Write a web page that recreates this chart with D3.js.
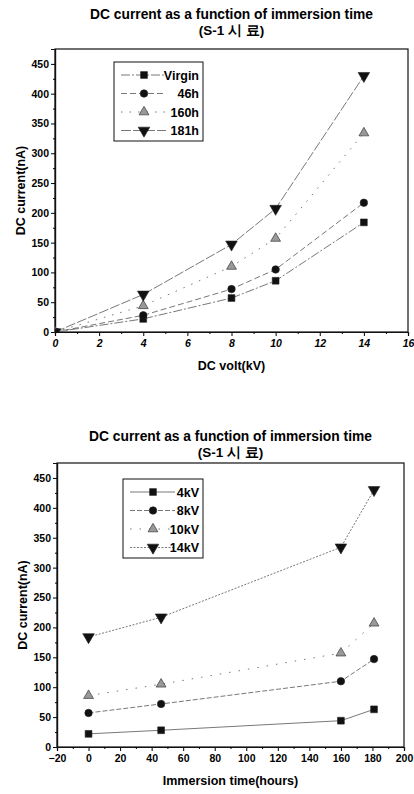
<!DOCTYPE html>
<html>
<head>
<meta charset="utf-8">
<script src="https://cdn.jsdelivr.net/npm/d3@7/dist/d3.min.js"></script>
<style>
  body { margin: 0; background: #fff; }
  svg { display: block; font-family: "Liberation Sans", Arial, sans-serif; }
  .tick text { font-weight: bold; }
</style>
</head>
<body>
<svg></svg>
<script>
const width = 414, height = 794;

// DC volt (kV) and immersion time (hours)
const volts = [0, 4, 8, 10, 14];
const hours = [0, 46, 160, 181];
const hourNames = ["Virgin", "46h", "160h", "181h"];
const voltNames = ["4kV", "8kV", "10kV", "14kV"];

// DC current (nA) at 0, 4, 8, 10, 14 kV for each immersion time
const virgin = [0, 22, 57, 86, 184];
const h46 = [0, 28, 72, 105, 217];
const h160 = [0, 44, 110, 157, 334];
const h181 = [0, 63, 147, 207, 430];

const yTicks = [0, 50, 100, 150, 200, 250, 300, 350, 400, 450];
const voltTicks = [0, 2, 4, 6, 8, 10, 12, 14, 16];
const hourTicks = [-20, 0, 20, 40, 60, 80, 100, 120, 140, 160, 180, 200];

const title = "DC current as a function of immersion time";
const subtitle = "(S-1 시 료)";

const svg = d3.select("svg").attr("width", width).attr("height", height);

const markers = [
    {type: d3.symbolSquare, size: 46, fill: "#111", rot: 0},
    {type: d3.symbolCircle, size: 44, fill: "#111", rot: 0},
    {type: d3.symbolTriangle, size: 42, fill: "#999", rot: 0},
    {type: d3.symbolTriangle, size: 58, fill: "#111", rot: 180}
];

function drawChart(c) {
    const g = svg.append("g");
    const x = d3.scaleLinear().domain(c.xDomain).range([c.left, c.right]);
    const y = d3.scaleLinear().domain([0, 475]).range([c.bottom, c.top]);

    g.append("text").attr("x", (c.left + c.right) / 2).attr("y", c.titleY)
        .attr("text-anchor", "middle").attr("font-size", 13.8).attr("font-weight", "bold")
        .text(title);
    g.append("text").attr("x", (c.left + c.right) / 2).attr("y", c.titleY + 16)
        .attr("text-anchor", "middle").attr("font-size", 13.5).attr("font-weight", "bold")
        .text(subtitle);

    // frame
    g.append("rect").attr("x", c.left).attr("y", c.top)
        .attr("width", c.right - c.left).attr("height", c.bottom - c.top)
        .attr("fill", "none").attr("stroke", "#111").attr("stroke-width", 1.2);

    // axes
    const xAxis = g.append("g").attr("transform", `translate(0,${c.bottom})`)
        .call(d3.axisBottom(x).tickValues(c.xTicks).tickSize(4).tickPadding(4));
    xAxis.selectAll(".tick text").attr("font-size", 10.5).attr("font-family", "Liberation Sans, Arial, sans-serif")
        .attr("font-style", c.italic ? "italic" : "normal");
    const minorX = d3.range(c.xDomain[0], c.xDomain[1], c.xMinor).filter(v => !c.xTicks.includes(v));
    g.append("g").attr("transform", `translate(0,${c.bottom})`)
        .call(d3.axisBottom(x).tickValues(minorX).tickSize(2).tickFormat(""));

    const yAxis = g.append("g").attr("transform", `translate(${c.left},0)`)
        .call(d3.axisLeft(y).tickValues(yTicks).tickSize(4).tickPadding(2));
    yAxis.selectAll(".tick text").attr("font-size", 10.5).attr("font-family", "Liberation Sans, Arial, sans-serif");
    g.append("g").attr("transform", `translate(${c.left},0)`)
        .call(d3.axisLeft(y).tickValues(d3.range(25, 475, 50)).tickSize(2).tickFormat(""));
    g.selectAll(".domain").attr("stroke", "#111").attr("stroke-width", 1.2);

    g.append("text").attr("x", (c.left + c.right) / 2).attr("y", c.bottom + 38)
        .attr("text-anchor", "middle").attr("font-size", 12.5).attr("font-weight", "bold")
        .text(c.xLabel);
    g.append("text")
        .attr("transform", `translate(${c.left - 30},${(c.top + c.bottom) / 2}) rotate(-90)`)
        .attr("text-anchor", "middle").attr("font-size", 12.5).attr("font-weight", "bold")
        .text("DC current(nA)");

    const clipId = "clip" + c.id;
    svg.append("clipPath").attr("id", clipId).append("rect")
        .attr("x", c.left).attr("y", c.top).attr("width", c.right - c.left).attr("height", c.bottom - c.top);
    const plot = g.append("g").attr("clip-path", `url(#${clipId})`);

    const line = d3.line().x(d => x(d[0])).y(d => y(d[1]));

    c.series.forEach((s, i) => {
        const pts = s.xs.map((xv, j) => [xv, s.ys[j]]);
        plot.append("path").datum(pts).attr("d", line)
            .attr("fill", "none").attr("stroke", "#555").attr("stroke-width", 0.8)
            .attr("stroke-dasharray", c.dashes[i]);
        const m = markers[i];
        plot.selectAll(null).data(pts).enter().append("path")
            .attr("d", d3.symbol().type(m.type).size(m.size))
            .attr("transform", d => `translate(${x(d[0])},${y(d[1])}) rotate(${m.rot})`)
            .attr("fill", m.fill).attr("stroke", "#222").attr("stroke-width", 0.6);
    });

    // legend
    const L = c.legend;
    const lg = g.append("g");
    lg.append("rect").attr("x", L.x).attr("y", L.y).attr("width", L.w).attr("height", L.h)
        .attr("fill", "#fff").attr("stroke", "#111").attr("stroke-width", 1);
    c.series.forEach((s, i) => {
        const ry = L.y + 13 + i * 18.5;
        lg.append("line").attr("x1", L.x + 7).attr("x2", L.x + 52).attr("y1", ry).attr("y2", ry)
            .attr("stroke", "#555").attr("stroke-width", 0.8).attr("stroke-dasharray", c.dashes[i]);
        const m = markers[i];
        lg.append("path").attr("d", d3.symbol().type(m.type).size(m.size))
            .attr("transform", `translate(${L.x + 30},${ry}) rotate(${m.rot})`)
            .attr("fill", m.fill).attr("stroke", "#222").attr("stroke-width", 0.6);
        lg.append("text").attr("x", L.x + L.w - 4).attr("y", ry + 4.5)
            .attr("text-anchor", "end").attr("font-size", 12.5).attr("font-weight", "bold")
            .text(s.name);
    });
}

const byHour = [virgin, h46, h160, h181];

drawChart({
    id: "a", left: 55, right: 408, top: 49, bottom: 332, titleY: 19,
    xDomain: [0, 16], xTicks: voltTicks, xMinor: 1, italic: true,
    xLabel: "DC volt(kV)",
    dashes: ["9,2,2,2", "6,3", "1.5,7", "10,2"],
    legend: {x: 114, y: 62, w: 89, h: 79},
    series: byHour.map((ys, i) => ({name: hourNames[i], xs: volts, ys: ys}))
});

drawChart({
    id: "b", left: 57, right: 404, top: 463, bottom: 747, titleY: 441,
    xDomain: [-20, 200], xTicks: hourTicks, xMinor: 10, italic: false,
    xLabel: "Immersion time(hours)",
    dashes: ["none", "5,2", "1.5,8", "2,1.5"],
    legend: {x: 123, y: 479, w: 80, h: 79},
    series: voltNames.map((n, k) => ({name: n, xs: hours, ys: byHour.map(a => a[k + 1])}))
});
</script>
</body>
</html>
